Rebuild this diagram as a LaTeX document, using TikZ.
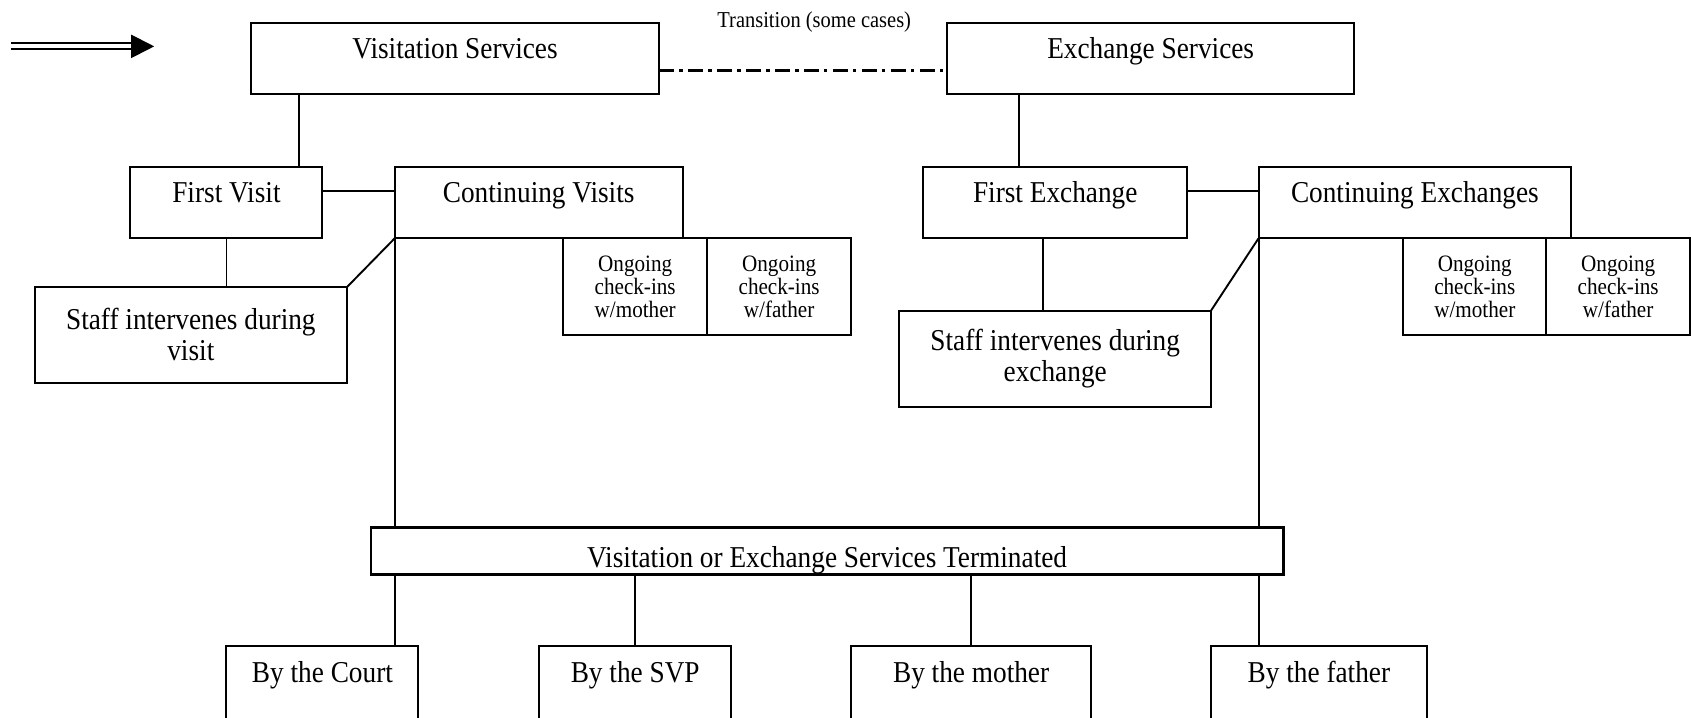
\documentclass[tikz,border=0pt]{standalone}
\usepackage{fontspec}
\setmainfont{Liberation Serif}[FakeStretch=0.9]
\usetikzlibrary{calc,arrows.meta}
\begin{document}
\begin{tikzpicture}[x=0.02cm,y=-0.02cm,line cap=round]
	\tikzstyle{box}=[draw,line width=1.05pt,inner sep=0pt,outer sep=0pt,anchor=north west,font=\fontsize{16}{16.4}\selectfont];
	\tikzstyle{onebox}=[box,text height=0.66cm,text depth=0.66cm];
	\tikzstyle{twobox}=[box,align=center,minimum height=1.78cm];
	\tikzstyle{checkbox}=[box,align=center,minimum width=2.66cm,minimum height=1.8cm,font=\fontsize{12.4}{12.3}\selectfont];
	\tikzstyle{endbox}=[box,text height=0.68cm,text depth=1cm];
	\tikzstyle{link}=[line width=1pt];
	\tikzstyle{transit}=[line width=1.3pt,line cap=butt,dash pattern=on 7.9pt off 2.8pt on 1.8pt off 2.8pt];

	\clip (0,0) rectangle (1568,665);

	\node[onebox,minimum width=7.56cm] (vis) at (233,21) {Visitation Services};
	\node[onebox,minimum width=7.56cm] (exs) at (878,21) {Exchange Services};
	\node[font=\fontsize{12}{12}\selectfont] (trans) at (755,20) {Transition (some cases)};
	\node[onebox,minimum width=3.56cm] (fv) at (121,155) {First Visit};
	\node[onebox,minimum width=5.34cm] (cv) at (366,155) {Continuing Visits};
	\node[twobox,minimum width=5.8cm] (sv) at (32,266) {Staff intervenes during\\visit};
	\node[checkbox,minimum width=2.68cm] (cvm) at (522,221) {Ongoing\\check-ins\\w/mother};
	\node[checkbox] (cvf) at (cvm.north east) {Ongoing\\check-ins\\w/father};
	\node[onebox,minimum width=4.9cm] (fe) at (856,155) {First Exchange};
	\node[onebox,minimum width=5.8cm] (ce) at (1167,155) {Continuing Exchanges};
	\node[twobox,minimum width=5.78cm] (se) at (834,288) {Staff intervenes during\\exchange};
	\node[checkbox] (cem) at (1301,221) {Ongoing\\check-ins\\w/mother};
	\node[checkbox] (cef) at (cem.north east) {Ongoing\\check-ins\\w/father};
	\node[box,minimum width=16.92cm,text height=0.74cm,text depth=0.14cm,line width=1.5pt] (term) at (344,489) {Visitation or Exchange Services Terminated};
	\node[endbox,minimum width=3.56cm] (court) at (210,599) {By the Court};
	\node[endbox,minimum width=3.56cm] (svp) at (500,599) {By the SVP};
	\node[endbox,minimum width=4.46cm] (mom) at (789,599) {By the mother};
	\node[endbox,minimum width=4cm] (dad) at (1123,599) {By the father};

	\coordinate (arrS) at (10,43);
	\coordinate (arrE) at (143,43);
	\draw[line width=0.037cm,line cap=butt,double distance=0.071cm,-{Triangle[length=0.43cm,width=0.43cm]}] (arrS) -- (arrE);

	\draw[transit] ($(vis.north east)!.67!(vis.south east)$) -- ($(exs.north west)!.67!(exs.south west)$);
	\draw[link] ($(vis.south west)+(44,0)$) -- ($(fv.north west)+(156,0)$);
	\draw[link] ($(fv.north east)+(0,22)$) -- ($(cv.north west)+(0,22)$);
	\draw[link] (fv.south) -- (fv.south |- sv.north);
	\draw[link] (cv.south west) -- (sv.north east);
	\draw[link] (cv.south west) -- (cv.south west |- term.north);
	\draw[link] ($(exs.south west)+(67,0)$) -- ($(fe.north west)+(89,0)$);
	\draw[link] ($(fe.north east)+(0,22)$) -- ($(ce.north west)+(0,22)$);
	\draw[link] ($(fe.south west)+(111,0)$) -- ($(se.north west)+(133,0)$);
	\draw[link] (ce.south west) -- (se.north east);
	\draw[link] (ce.south west) -- (ce.south west |- term.north);
	\draw[link] (term.south -| cv.south west) -- (court.north -| cv.south west);
	\draw[link] (term.south -| svp.north) -- (svp.north);
	\draw[link] (term.south -| mom.north) -- (mom.north);
	\draw[link] (term.south -| ce.south west) -- (dad.north -| ce.south west);
\end{tikzpicture}
\end{document}
